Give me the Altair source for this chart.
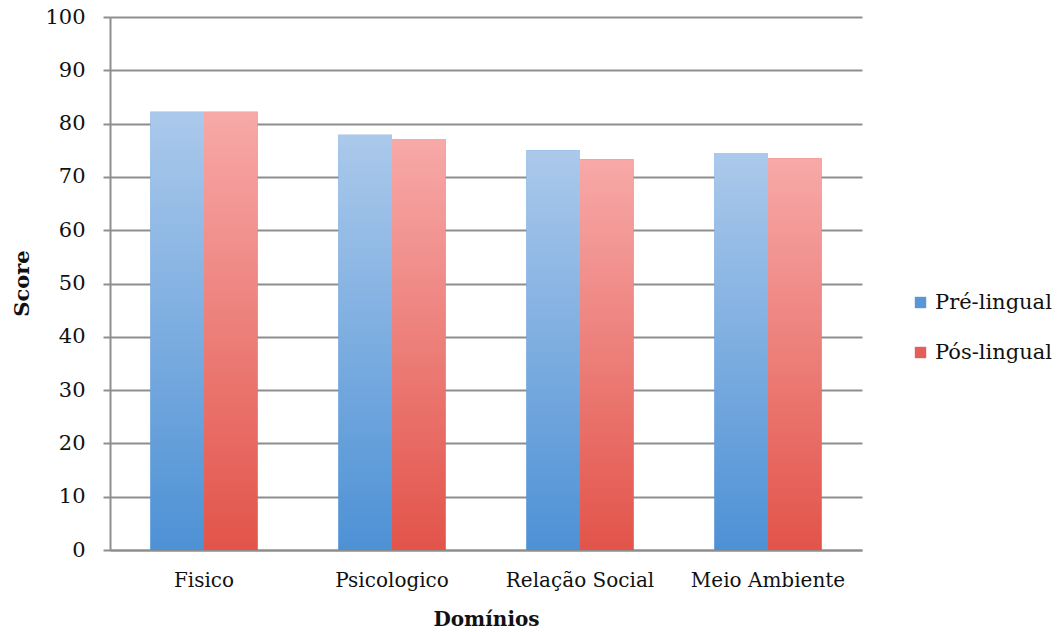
import altair as alt
import pandas as pd

# Domain scores by group
categories = ["Fisico", "Psicologico", "Relação Social", "Meio Ambiente"]
series = ["Pré-lingual", "Pós-lingual"]
pre_lingual = [82.2, 77.9, 75.0, 74.5]
pos_lingual = [82.2, 77.1, 73.3, 73.5]

legend_colors = ["#5b97d6", "#e3605a"]
# vertical gradients (top -> bottom) for each group
gradient_stops = {
    "Pré-lingual": ["#abc9eb", "#4d91d5"],
    "Pós-lingual": ["#f7a9a8", "#e2544a"],
}

rows = []
for cat, a, b in zip(categories, pre_lingual, pos_lingual):
    rows.append({"Domínio": cat, "Grupo": series[0], "Score": a})
    rows.append({"Domínio": cat, "Grupo": series[1], "Score": b})
df = pd.DataFrame(rows)

FONT = "DejaVu Serif"
GRID = "#8e8e8e"

x_enc = alt.X(
    "Domínio:N",
    sort=categories,
    title="Domínios",
    scale=alt.Scale(paddingInner=0.43, paddingOuter=0.215),
    axis=alt.Axis(
        labelAngle=0,
        ticks=False,
        tickSize=0,
        labelPadding=20,
        labelFont=FONT,
        labelFontSize=20,
        labelColor="#111111",
        domainColor=GRID,
        domainWidth=2,
        grid=False,
        titleFont=FONT,
        titleFontSize=20,
        titleFontWeight="bold",
        titleColor="#111111",
        titleY=69,
        titleBaseline="middle",
    ),
)
xo_enc = alt.XOffset(
    "Grupo:N",
    sort=series,
    scale=alt.Scale(domain=series, paddingInner=0, paddingOuter=0),
)
y_enc = alt.Y(
    "Score:Q",
    title="Score",
    scale=alt.Scale(domain=[0, 100], nice=False),
    axis=alt.Axis(
        values=list(range(0, 101, 10)),
        tickSize=7,
        tickColor=GRID,
        tickWidth=2,
        labelPadding=18,
        labelFont=FONT,
        labelFontSize=21,
        labelColor="#111111",
        domainColor=GRID,
        domainWidth=2,
        grid=True,
        gridColor=GRID,
        gridWidth=2,
        titleFont=FONT,
        titleFontSize=21,
        titleFontWeight="bold",
        titleColor="#111111",
        titleX=-88,
        titleY=266,
        titleAlign="center",
        titleBaseline="middle",
    ),
)

base = alt.Chart(df).mark_bar().encode(
    x=x_enc,
    xOffset=xo_enc,
    y=y_enc,
    color=alt.Color(
        "Grupo:N",
        sort=series,
        scale=alt.Scale(domain=series, range=legend_colors),
        legend=alt.Legend(
            title=None,
            orient="none",
            legendX=800,
            legendY=275,
            symbolType="square",
            symbolSize=130,
            symbolStrokeWidth=0,
            labelFont=FONT,
            labelFontSize=21,
            labelColor="#111111",
            labelOffset=4,
            labelLimit=300,
            rowPadding=28,
        ),
    ),
)

layers = [base]
for s in series:
    top, bottom = gradient_stops[s]
    grad = alt.Gradient(
        gradient="linear",
        x1=0, x2=0, y1=0, y2=1,
        stops=[
            alt.GradientStop(color=top, offset=0),
            alt.GradientStop(color=bottom, offset=1),
        ],
    )
    layers.append(
        alt.Chart(df)
        .transform_filter(alt.datum.Grupo == s)
        .mark_bar(color=grad)
        .encode(x=x_enc, xOffset=xo_enc, y=y_enc)
    )

chart = (
    alt.layer(*layers)
    .properties(
        width=752,
        height=533,
        autosize=alt.AutoSizeParams(type="none"),
        padding={"left": 110, "top": 17, "right": 196, "bottom": 82},
        background="white",
    )
    .configure_view(stroke=None)
)

chart.save("out.html", embed_options={"renderer": "svg", "actions": False})
